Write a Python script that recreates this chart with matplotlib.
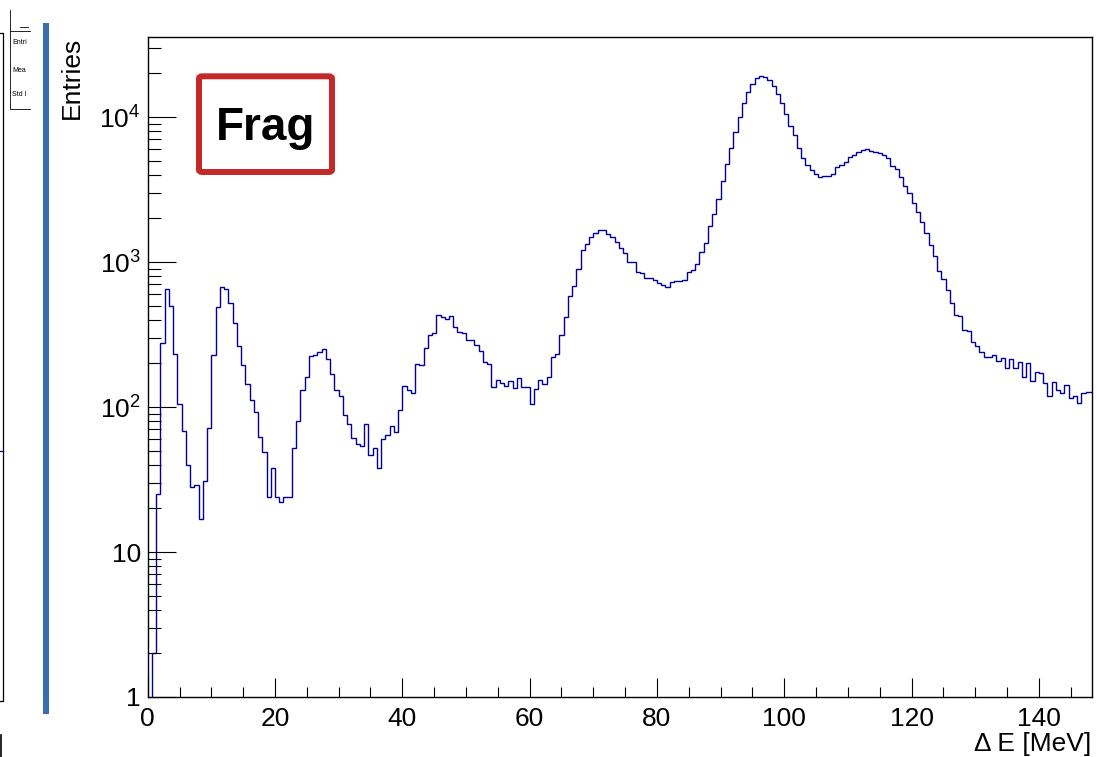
import numpy as np
import matplotlib
matplotlib.use('Agg')
import matplotlib.pyplot as plt
from matplotlib.ticker import LogLocator, NullFormatter, MultipleLocator
from matplotlib.patches import Rectangle, FancyBboxPatch
from matplotlib.lines import Line2D

plt.rcParams['font.family'] = ['Liberation Sans', 'DejaVu Sans']
plt.rcParams['mathtext.default'] = 'regular'

# histogram: Delta E, bins of 2/3 MeV starting at 0
bin_width = 2.0 / 3.0
counts = [
    0, 2, 25, 275, 648, 500, 231, 105, 68, 40,
    28, 29, 17, 31, 72, 228, 492, 669, 648, 524,
    380, 265, 196, 145, 111, 93, 62, 49, 24, 38,
    24, 22, 24, 24, 52, 80, 130, 160, 224, 228,
    241, 251, 214, 169, 131, 120, 88, 76, 61, 56,
    54, 76, 47, 52, 38, 60, 64, 74, 67, 95,
    139, 131, 125, 197, 195, 257, 315, 322, 431, 420,
    407, 426, 358, 331, 326, 290, 290, 266, 245, 205,
    198, 137, 154, 147, 140, 150, 135, 158, 137, 137,
    105, 133, 154, 144, 160, 221, 231, 314, 420, 583,
    683, 890, 1210, 1324, 1480, 1577, 1663, 1663, 1552, 1495,
    1381, 1243, 1148, 1005, 1005, 858, 835, 772, 772, 751,
    713, 694, 669, 732, 743, 743, 751, 855, 881, 969,
    1178, 1360, 1781, 2132, 2705, 3637, 4717, 6082, 7838, 10050,
    12560, 14950, 16890, 18480, 19180, 18970, 17990, 16450, 14410, 12560,
    10430, 8667, 7512, 6082, 5188, 4667, 4310, 4045, 3877, 3919,
    3919, 4045, 4498, 4667, 4920, 5328, 5470, 5768, 5921, 5985,
    5859, 5768, 5615, 5470, 5188, 4592, 4355, 3836, 3361, 3007,
    2566, 2224, 1897, 1577, 1310, 1100, 871, 759, 641, 519,
    431, 424, 340, 336, 282, 263, 241, 220, 220, 227,
    209, 217, 185, 213, 185, 203, 162, 200, 152, 174,
    171, 146, 120, 148, 132, 124, 142, 116, 120, 107,
    124, 126, 126,
]
x_max = 148.3
y_max = 10 ** 4.552

x_ticks = [0, 20, 40, 60, 80, 100, 120, 140]
y_ticks = [1, 10, 100, 1000, 10000]
y_tick_labels = ['1', '10', '$10^{2}$', '$10^{3}$', '$10^{4}$']

W, H = 1097, 757
fig = plt.figure(figsize=(W / 100, H / 100), dpi=100)


def fx(px):
    return px / W


def fy(py):
    return 1 - py / H


ax = fig.add_axes([fx(147.7), fy(697), (1091.7 - 147.7) / W, 660 / H])

counts = np.array(counts, dtype=float)
edges = np.arange(len(counts) + 1) * bin_width
vals = np.where(counts > 0, counts, 1e-3)
ax.stairs(vals, edges, baseline=None, color='#000099', lw=1.0)

ax.set_yscale('log')
ax.set_xlim(0, x_max)
ax.set_ylim(1, y_max)
ax.set_yticks(y_ticks, y_tick_labels)
ax.yaxis.set_minor_locator(LogLocator(base=10, subs=np.arange(2, 10), numticks=20))
ax.yaxis.set_minor_formatter(NullFormatter())
ax.set_xticks(x_ticks)
ax.xaxis.set_minor_locator(MultipleLocator(5))

ax.tick_params(axis='both', which='both', direction='in', top=False, right=False)
ax.tick_params(axis='y', which='major', length=20, width=0.8, labelsize=19, pad=5)
ax.tick_params(axis='y', which='minor', length=9.6, width=0.8)
ax.tick_params(axis='x', which='major', length=13.7, width=0.8, labelsize=19, pad=7)
ax.tick_params(axis='x', which='minor', length=7, width=0.8)
for s in ax.spines.values():
    s.set_linewidth(1.0)

ax.set_xlabel('\u0394 E [MeV]', fontsize=19, loc='right', labelpad=1)
ax.set_ylabel('Entries', fontsize=19, loc='top')
ax.yaxis.set_label_coords(-0.068, 1.0)

# "Frag" label box
box = FancyBboxPatch((fx(199), fy(172)), (332 - 199) / W, (172 - 76.3) / H,
                     boxstyle='round,pad=0,rounding_size=0.003',
                     transform=fig.transFigure, fill=False,
                     edgecolor='#c62828', linewidth=4.3)
fig.add_artist(box)
fig.text(fx(266), fy(140), 'Frag', ha='center', va='baseline',
         fontsize=33, fontweight='bold', color='black')

# pieces of the neighbouring pad on the left
blue_bar = Rectangle((fx(43.3), fy(714)), 6 / W, (714 - 23) / H,
                     transform=fig.transFigure, color='#3a6cb0', lw=0)
fig.add_artist(blue_bar)


def fline(xs, ys, **kw):
    fig.add_artist(Line2D([fx(v) for v in xs], [fy(v) for v in ys],
                          transform=fig.transFigure, **kw))


fline([0, 3, 3, 0], [33, 33, 701, 701], color='black', lw=0.9)
fline([0, 3], [451, 451], color='#000099', lw=0.9)
fline([1, 1], [735, 757], color='black', lw=1.2)
fline([30, 10, 10, 30], [31, 31, 109, 109], color='black', lw=0.6)
fline([10, 10], [10, 31], color='black', lw=0.6)
fline([20, 28], [27, 27], color='black', lw=0.6)
for label, yy in [('Entri', 43), ('Mea', 70), ('Std I', 95)]:
    fig.text(fx(12), fy(yy), label, fontsize=5, ha='left', va='center')

fig.savefig('out.png', dpi=100)
